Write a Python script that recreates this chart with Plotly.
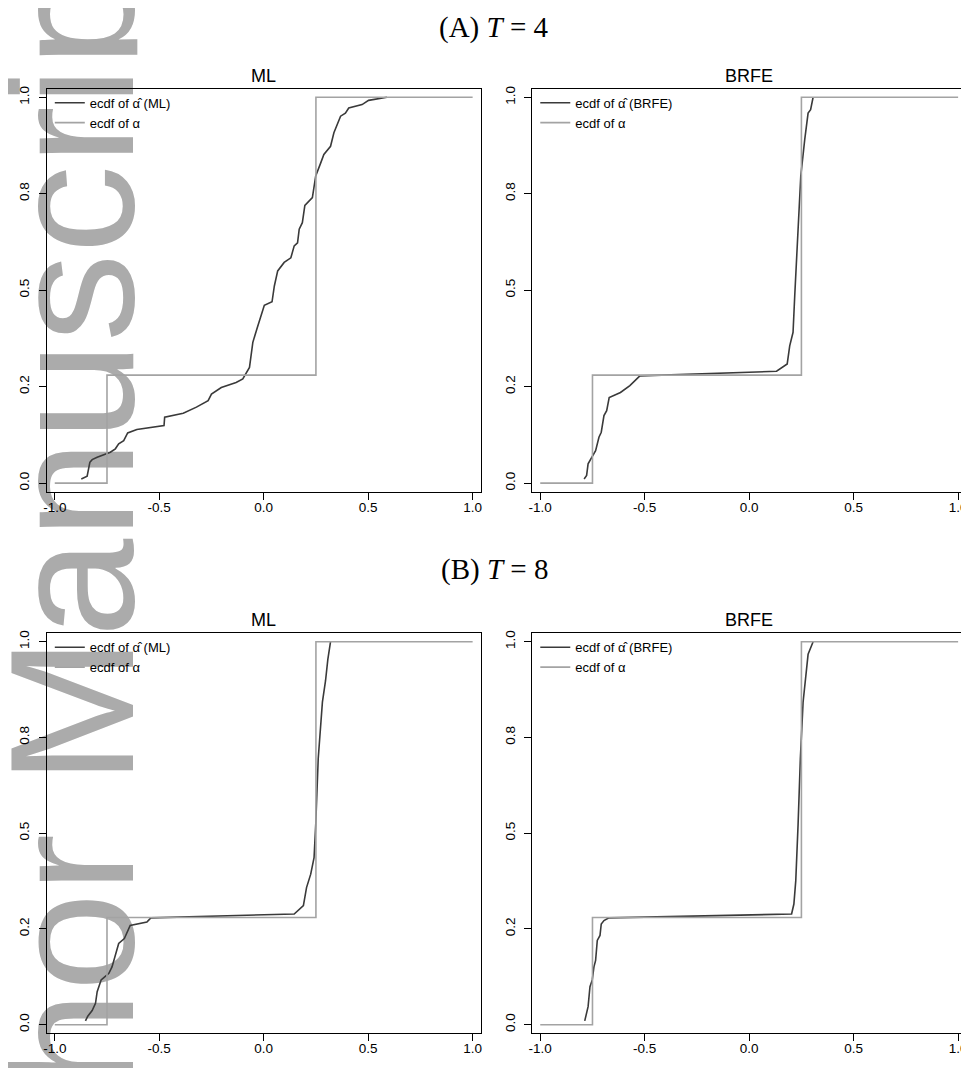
import plotly.graph_objects as go

# ecdf of alpha-hat
x_ml4 = [-0.873, -0.845, -0.832, -0.821, -0.797, -0.765, -0.734, -0.710, -0.694, -0.670,
         -0.651, -0.607, -0.544, -0.477, -0.474, -0.385, -0.322, -0.266, -0.250, -0.203,
         -0.132, -0.100, -0.068, -0.052, -0.033, -0.013, 0.003, 0.040, 0.051, 0.067,
         0.098, 0.130, 0.146, 0.162, 0.170, 0.185, 0.197, 0.233, 0.249, 0.273,
         0.288, 0.320, 0.336, 0.368, 0.391, 0.407, 0.471, 0.502, 0.590]
y_ml4 = [0.011, 0.018, 0.054, 0.061, 0.067, 0.073, 0.080, 0.089, 0.102, 0.110,
         0.130, 0.139, 0.143, 0.149, 0.171, 0.181, 0.197, 0.214, 0.231, 0.248,
         0.261, 0.270, 0.300, 0.365, 0.399, 0.434, 0.461, 0.470, 0.511, 0.550,
         0.572, 0.584, 0.615, 0.623, 0.658, 0.675, 0.720, 0.740, 0.796, 0.830,
         0.852, 0.873, 0.908, 0.951, 0.959, 0.972, 0.981, 0.992, 1.0]

x_brfe4 = [-0.790, -0.778, -0.771, -0.751, -0.735, -0.719, -0.708, -0.695, -0.682, -0.670,
           -0.616, -0.571, -0.544, -0.523, 0.131, 0.182, 0.194, 0.210, 0.218, 0.234,
           0.247, 0.266, 0.282, 0.294, 0.306]
y_brfe4 = [0.011, 0.020, 0.050, 0.067, 0.084, 0.119, 0.132, 0.175, 0.188, 0.222,
           0.235, 0.253, 0.266, 0.278, 0.290, 0.309, 0.356, 0.391, 0.485, 0.658,
           0.796, 0.891, 0.959, 0.968, 1.0]

x_ml8 = [-0.853, -0.842, -0.821, -0.805, -0.797, -0.778, -0.765, -0.741, -0.726, -0.710,
         -0.694, -0.667, -0.639, -0.559, -0.540, 0.146, 0.190, 0.205, 0.225, 0.241,
         0.249, 0.261, 0.281, 0.296, 0.307, 0.320]
y_ml8 = [0.010, 0.022, 0.037, 0.056, 0.086, 0.117, 0.123, 0.134, 0.151, 0.181,
         0.212, 0.225, 0.259, 0.268, 0.279, 0.289, 0.311, 0.358, 0.393, 0.436,
         0.522, 0.695, 0.842, 0.898, 0.954, 1.0]

x_brfe8 = [-0.787, -0.771, -0.762, -0.751, -0.743, -0.735, -0.727, -0.714, -0.708, -0.695,
           -0.671, 0.203, 0.214, 0.223, 0.234, 0.245, 0.258, 0.270, 0.282, 0.306]
y_brfe8 = [0.010, 0.047, 0.099, 0.117, 0.151, 0.168, 0.220, 0.233, 0.263, 0.272,
           0.279, 0.289, 0.315, 0.376, 0.522, 0.695, 0.842, 0.911, 0.967, 1.0]

# true alpha ecdf (step function)
x_alpha = [-1.0, -0.75, 0.25, 1.0]
y_alpha = [0.0, 0.28, 1.0, 1.0]

x_ticks = [-1.0, -0.5, 0.0, 0.5, 1.0]
x_ticktext = ["-1.0", "-0.5", "0.0", "0.5", "1.0"]
y_ticks = [0.0, 0.25, 0.5, 0.75, 1.0]
y_ticktext = ["0.0", "0.2", "0.5", "0.8", "1.0"]

W, H = 969, 1068
OFF = 8  # the page body has an 8px margin, so the plot div starts at (8, 8)
DARK = "#3a3a3a"
LIGHT = "#a3a3a3"
FONT = "Liberation Sans, Arial, sans-serif"


def px(x):
    return (x - OFF) / W


def py(y):
    return 1 - (y - OFF) / H


panels = [
    # (x, y, estimator label, x-extent px, y-extent px, axis suffix, legend id)
    (x_ml4, y_ml4, "ML", (43, 479), (86, 490), "", "legend"),
    (x_brfe4, y_brfe4, "BRFE", (531, 967), (86, 490), "2", "legend2"),
    (x_ml8, y_ml8, "ML", (43, 479), (632, 1033), "3", "legend3"),
    (x_brfe8, y_brfe8, "BRFE", (531, 967), (632, 1033), "4", "legend4"),
]

fig = go.Figure()
layout = dict(
    width=W, height=H,
    margin=dict(l=0, r=0, t=0, b=0),
    paper_bgcolor="white",
    plot_bgcolor="rgba(0,0,0,0)",
    font=dict(family=FONT, color="black", size=13),
)
annotations = []

for xs, ys, name, (x0, x1), (y0, y1), sfx, leg in panels:
    xa = "x" + sfx
    ya = "y" + sfx
    fig.add_trace(go.Scatter(
        x=xs, y=ys, mode="lines", name="ecdf of \u03b1\u0302 (" + name + ")",
        line=dict(color=DARK, width=1.6), xaxis=xa, yaxis=ya, legend=leg))
    fig.add_trace(go.Scatter(
        x=x_alpha, y=y_alpha, mode="lines", name="ecdf of \u03b1",
        line=dict(color=LIGHT, width=1.6, shape="hv"), xaxis=xa, yaxis=ya, legend=leg))

    layout["xaxis" + sfx] = dict(
        domain=[px(x0), px(x1)], anchor=ya, range=[-1.038, 1.038],
        tickvals=x_ticks, ticktext=x_ticktext, ticks="outside", ticklen=7,
        tickcolor="black", showline=True, linecolor="black", linewidth=1.3,
        mirror=True, showgrid=False, zeroline=False, tickfont=dict(size=13.5),
        ticklabelstandoff=-4)
    layout["yaxis" + sfx] = dict(
        domain=[py(y1), py(y0)], anchor=xa, range=[-0.022, 1.022],
        tickvals=y_ticks, ticktext=y_ticktext, ticks="outside", ticklen=7,
        tickcolor="black", showline=True, linecolor="black", linewidth=1.3,
        mirror=True, showgrid=False, zeroline=False, tickangle=-90,
        tickfont=dict(size=13.5), ticklabelstandoff=4)
    layout[leg] = dict(
        x=px(x0 + 3), y=py(y0 - 1), xanchor="left", yanchor="top",
        bgcolor="rgba(0,0,0,0)", borderwidth=0, font=dict(size=13),
        tracegroupgap=0)

    annotations.append(dict(
        text=name, x=px((x0 + x1) / 2), y=py(y0 - 13),
        xref="paper", yref="paper", showarrow=False,
        font=dict(size=18, family=FONT), xanchor="center", yanchor="middle"))

for label, ty in [("(A) <i>T</i> = 4", 25), ("(B) <i>T</i> = 8", 568)]:
    annotations.append(dict(
        text=label, x=px(493), y=py(ty), xref="paper", yref="paper",
        showarrow=False, font=dict(size=29, family="Liberation Serif, serif"),
        xanchor="center", yanchor="middle"))

# vertical watermark down the left edge, drawn under the plots
wx, wy = px(51), py(636)
shapes = [
    dict(type="rect", xref="paper", yref="paper", layer="below",
         x0=wx - 0.01, x1=wx + 0.01, y0=wy - 0.01, y1=wy + 0.01,
         line=dict(width=0), fillcolor="rgba(0,0,0,0)",
         label=dict(text="Author Manuscript", textangle=-90,
                    textposition="middle center",
                    font=dict(size=177, color="#ababab",
                              family="Liberation Sans, Arial"))),
    # the watermark strip is cut at its right edge (hides the p descender)
    dict(type="rect", xref="paper", yref="paper", layer="below",
         x0=px(134), x1=px(190), y0=py(60), y1=py(-10),
         line=dict(width=0), fillcolor="white"),
]

layout["annotations"] = annotations
layout["shapes"] = shapes
layout["showlegend"] = True
fig.update_layout(**layout)

fig.write_html("out.html")
